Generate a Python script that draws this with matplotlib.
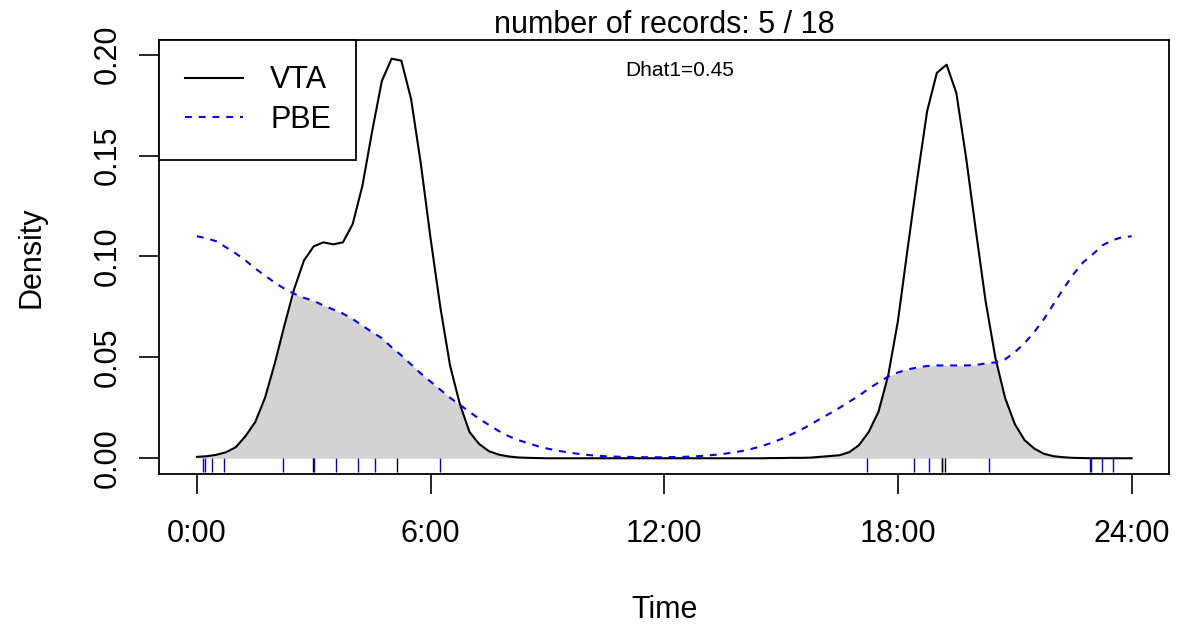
import numpy as np
import matplotlib.pyplot as plt

# density curves, on a 0.25 h grid
hours = np.arange(0, 24.01, 0.25)

vta = [0.0007, 0.0010, 0.0017, 0.0030, 0.0055, 0.011, 0.018, 0.030,
       0.047, 0.066, 0.084, 0.098, 0.105, 0.107, 0.106, 0.107,
       0.116, 0.135, 0.162, 0.187, 0.198, 0.197, 0.178, 0.146,
       0.109, 0.075, 0.046, 0.027, 0.013, 0.007, 0.0035, 0.0018,
       0.0009, 0.0004, 0.0002, 0.0001, 0.0, 0.0, 0.0, 0.0,
       0.0, 0.0, 0.0, 0.0, 0.0, 0.0, 0.0, 0.0,
       0.0, 0.0, 0.0, 0.0, 0.0, 0.0, 0.0, 0.0,
       0.0, 0.0, 0.0, 0.0001, 0.0001, 0.0002, 0.0002, 0.0003,
       0.0007, 0.0011, 0.0015, 0.003, 0.0065, 0.013, 0.023, 0.041,
       0.068, 0.104, 0.139, 0.172, 0.191, 0.195, 0.181, 0.149,
       0.113, 0.078, 0.050, 0.030, 0.017, 0.009, 0.0048, 0.0022,
       0.0010, 0.0005, 0.0002, 0.0001, 0.0, 0.0, 0.0, 0.0,
       0.0]

pbe = [0.110, 0.109, 0.1075, 0.1045, 0.1015, 0.098, 0.094, 0.0905,
       0.087, 0.084, 0.0815, 0.0795, 0.078, 0.0757, 0.0737, 0.0717,
       0.069, 0.0657, 0.0625, 0.0595, 0.055, 0.051, 0.0465, 0.042,
       0.038, 0.034, 0.030, 0.0265, 0.023, 0.0195, 0.0165, 0.0135,
       0.011, 0.009, 0.0075, 0.006, 0.0048, 0.0038, 0.003, 0.0023,
       0.0017, 0.0013, 0.001, 0.0008, 0.0007, 0.0006, 0.0005, 0.0005,
       0.0005, 0.0006, 0.0007, 0.0009, 0.0012, 0.0016, 0.0021, 0.0028,
       0.0036, 0.0047, 0.006, 0.0076, 0.0095, 0.0117, 0.014, 0.0166,
       0.0195, 0.0222, 0.025, 0.028, 0.031, 0.0345, 0.0375, 0.0405,
       0.0425, 0.044, 0.045, 0.0457, 0.046, 0.046, 0.046, 0.046,
       0.0462, 0.047, 0.0475, 0.049, 0.0525, 0.057, 0.0625, 0.069,
       0.0765, 0.084, 0.091, 0.097, 0.101, 0.1055, 0.108, 0.1095,
       0.110]

# record times (hours) shown as rug ticks
vta_times = [2.97, 5.13, 19.12, 19.14, 19.21]
pbe_times = [0.16, 0.21, 0.40, 0.69, 2.20, 3.01, 3.57, 4.14, 4.57, 6.24,
             17.20, 18.41, 18.81, 20.34, 22.93, 22.96, 23.25, 23.52]

xticks = [0, 6, 12, 18, 24]
xlabels = ["0:00", "6:00", "12:00", "18:00", "24:00"]
yticks = [0.00, 0.05, 0.10, 0.15, 0.20]

plt.rcParams['font.family'] = ['Liberation Sans', 'DejaVu Sans']

fig = plt.figure(figsize=(11.77, 6.25), dpi=100)
ax = fig.add_axes([0.1355, 0.2416, 0.8577, 0.6939])

vta = np.array(vta)
pbe = np.array(pbe)
ax.fill_between(hours, 0, np.minimum(vta, pbe), color='#D3D3D3', lw=0)
ax.plot(hours, vta, color='black', lw=1.5, label='VTA')
ax.plot(hours, pbe, color='blue', lw=1.5, linestyle=(0, (3.3, 3.3)), label='PBE')

rug_len = -0.0067
ax.vlines(vta_times, rug_len, 0, color='black', lw=1)
ax.vlines(pbe_times, rug_len, 0, color='blue', lw=1)

ax.set_xlim(-0.96, 24.96)
ax.set_ylim(-0.0078, 0.2071)
ax.set_xticks(xticks)
ax.set_xticklabels(xlabels)
ax.set_yticks(yticks)
ax.set_yticklabels(["%.2f" % v for v in yticks], rotation=90, va='center')
ax.tick_params(axis='both', length=14.4, width=1.2, labelsize=22, direction='out')
ax.tick_params(axis='x', pad=18)
ax.tick_params(axis='y', pad=12)
for s in ax.spines.values():
    s.set_linewidth(1.3)

ax.set_title("number of records: 5 / 18", fontsize=22, pad=5)
ax.set_xlabel("Time", fontsize=22)
ax.set_ylabel("Density", fontsize=22)
ax.xaxis.set_label_coords(0.5, -0.28)
ax.yaxis.set_label_coords(-0.112, 0.5)

ax.text(12.4, 0.192, "Dhat1=0.45", fontsize=15, ha='center', va='center')

leg = ax.legend(loc='upper left', fontsize=22, frameon=True, fancybox=False,
                edgecolor='black', borderaxespad=0, handlelength=1.9,
                handletextpad=0.9, borderpad=0.82, labelspacing=0.3)
leg.get_frame().set_linewidth(1.3)
leg.get_frame().set_alpha(1)

fig.savefig("out.png", dpi=100)
